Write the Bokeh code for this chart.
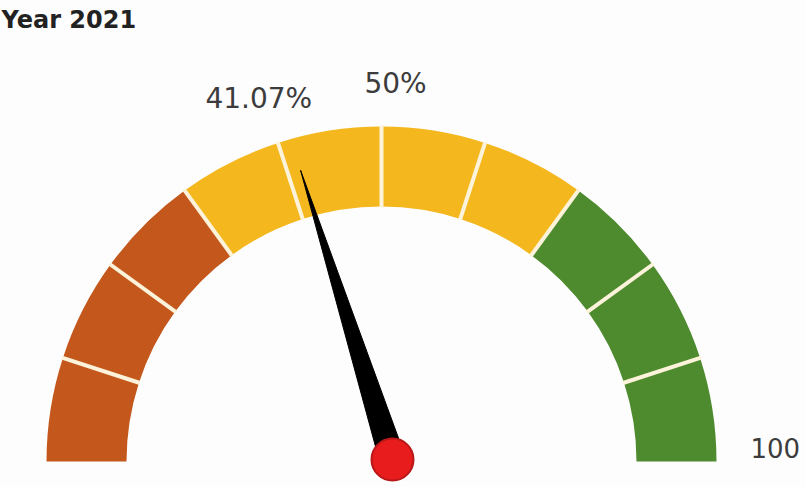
import numpy as np
from bokeh.plotting import figure
from bokeh.models import Range1d
from bokeh.core.properties import value
from bokeh.embed import file_html
from bokeh.resources import INLINE

# ---- data ----
title_text = "Year 2021"
band_edges = [0, 10, 20, 30, 40, 50, 60, 70, 80, 90, 100]
band_colors = ["#C4581C", "#C4581C", "#C4581C",
               "#F4B81E", "#F4B81E", "#F4B81E", "#F4B81E",
               "#4E8A2E", "#4E8A2E", "#4E8A2E"]
gauge_min = 0
gauge_max = 100
gauge_value = 41.07
gauge_target = 50
value_label = "41.07%"
target_label = "50%"
max_label = "100"

# ---- layout (screen-pixel based data space, y up) ----
W, H = 805, 487

def sy(y_screen):
    return H - y_screen

cx, cy = 381, sy(461)
r_in, r_out = 255, 335

def ang(v):
    return np.pi * (1 - (v - gauge_min) / (gauge_max - gauge_min))

p = figure(width=W, height=H, output_backend="svg", toolbar_location=None,
           x_range=Range1d(0, W), y_range=Range1d(0, H),
           min_border=0, outline_line_color=None, background_fill_color="#FDFDFD",
           border_fill_color="#FDFDFD")
p.axis.visible = False
p.grid.visible = False

starts = [ang(e) for e in band_edges[1:]]
ends = [ang(e) for e in band_edges[:-1]]
p.annular_wedge(x=[cx] * len(starts), y=[cy] * len(starts), inner_radius=r_in, outer_radius=r_out,
                start_angle=starts, end_angle=ends, fill_color=band_colors, line_color=None)

# separators
sep_vals = band_edges[1:-1]
sa = np.array([ang(v) for v in sep_vals])
p.segment(x0=cx + (r_in - 1) * np.cos(sa), y0=cy + (r_in - 1) * np.sin(sa),
          x1=cx + (r_out + 1) * np.cos(sa), y1=cy + (r_out + 1) * np.sin(sa),
          line_color="#FCF3DA", line_width=4)

# needle
px, py = cx + 11, cy + 2
a = ang(gauge_value)
tip_r, half_w = 303, 13
tx, ty = cx + tip_r * np.cos(a) + 3, cy + tip_r * np.sin(a)
dx, dy = tx - px, ty - py
L = np.hypot(dx, dy)
ux, uy = dx / L, dy / L
nx, ny = -uy, ux
p.patch(x=[tx, px + half_w * nx, px - half_w * nx],
        y=[ty, py + half_w * ny, py - half_w * ny],
        fill_color="#000000", line_color="#000000", line_width=1)
p.circle(x=[px], y=[py], radius=21, fill_color="#E81C1C", line_color="#B81818", line_width=2)

# labels
font = value("DejaVu Sans")
lr = 378
va = ang(gauge_value)
p.text(x=[cx + lr * np.cos(va) - 18], y=[cy + lr * np.sin(va)], text=[value_label],
       text_font=font, text_font_size=value("28px"), text_color="#3C3C3C",
       text_align="center", text_baseline="middle")
ta = ang(gauge_target)
p.text(x=[cx + lr * np.cos(ta) + 14], y=[cy + lr * np.sin(ta)], text=[target_label],
       text_font=font, text_font_size=value("28px"), text_color="#3C3C3C",
       text_align="center", text_baseline="middle")
ma = ang(gauge_max)
p.text(x=[cx + r_out * np.cos(ma) + 34], y=[cy + 14], text=[max_label],
       text_font=font, text_font_size=value("26px"), text_color="#3C3C3C",
       text_align="left", text_baseline="middle")

# title
p.text(x=[1], y=[sy(19)], text=[title_text], text_font=font, text_font_style="bold",
       text_font_size=value("24px"), text_color="#222222",
       text_align="left", text_baseline="middle")

open("out.html", "w").write(file_html(p, INLINE))
